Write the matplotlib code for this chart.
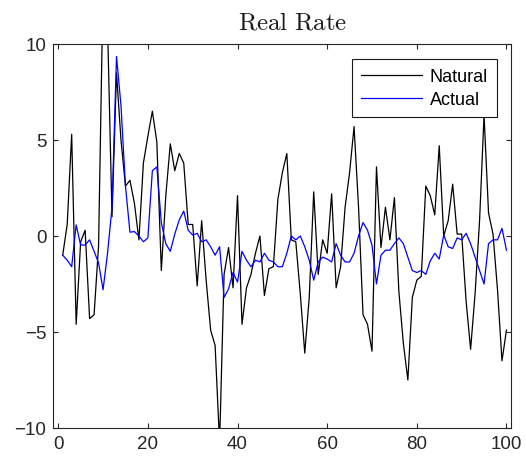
import matplotlib
matplotlib.use("Agg")
import matplotlib.pyplot as plt
import numpy as np

plt.rcParams['mathtext.fontset'] = 'cm'

periods = list(range(1, 101))

natural = [
    -1.0, 0.6, 5.3, -4.6, -0.3, 0.3, -4.3, -4.1, -0.5, 13.0,
    11.0, 1.0, 8.5, 5.0, 2.6, 2.9, 1.7, -0.2, 3.8, 5.2,
    6.5, 4.9, -1.8, 2.1, 4.8, 3.4, 4.3, 3.8, 0.6, 0.6,
    -2.6, 0.8, -2.3, -4.9, -5.7, -10.8, -2.0, -0.6, -2.7, 2.1,
    -4.6, -2.7, -2.0, -0.9, 0.0, -3.1, -1.7, -1.6, 1.9, 3.3,
    4.3, -0.2, -0.3, -3.0, -6.1, -3.2, 2.3, -2.0, -0.2, -0.9,
    2.2, -2.7, -1.6, 1.5, 3.3, 5.7, 1.5, -4.1, -4.6, -6.0,
    3.6, -0.6, 1.5, -0.2, 2.0, -2.9, -5.6, -7.5, -3.2, -2.3,
    -2.1, 2.6, 2.1, 1.1, 4.7, 0.0, 0.8, 2.7, 0.1, 0.1,
    -3.4, -5.9, -3.0, 0.8, 6.3, 1.2, 0.1, -2.8, -6.5, -4.9,
]

actual = [
    -1.0, -1.26, -1.6, 0.58, -0.47, -0.47, -0.2, -0.8, -1.4, -2.8,
    -0.9, 1.5, 9.35, 6.8, 2.6, 0.2, 0.23, 0.0, -0.3, -0.1,
    3.4, 3.6, 0.7, -0.4, -0.8, 0.1, 0.84, 1.3, 0.3, 0.05,
    0.14, -0.3, -0.2, -0.56, -1.0, -0.56, -3.2, -2.75, -1.9, -2.4,
    -0.8, -1.26, -1.6, -1.26, -1.35, -0.9, -1.26, -1.35, -1.6, -1.6,
    -0.9, 0.0, -0.2, 0.0, -0.56, -1.26, -2.3, -1.35, -1.1, -1.2,
    -1.35, -0.4, -1.0, -1.35, -1.35, -0.9, 0.0, 0.7, 0.3, -0.47,
    -2.5, -1.0, -0.74, -0.74, -0.4, -0.1, -0.4, -1.1, -1.8, -1.9,
    -1.8, -2.0, -1.3, -0.9, -1.2, 0.05, -0.56, -0.65, -0.1, -0.2,
    0.14, -0.4, -1.1, -1.8, -2.5, -0.4, -0.2, -0.2, 0.4, -0.74,
]

xticks = [0, 20, 40, 60, 80, 100]
yticks = [-10, -5, 0, 5, 10]

fig = plt.figure(figsize=(5.26, 4.64), dpi=100)
ax = fig.add_axes([53.3 / 526, 1 - 429 / 464, (510.5 - 53.3) / 526, (429 - 45) / 464])

ax.plot(periods, natural, color='black', lw=0.9, label='Natural')
ax.plot(periods, actual, color='#0000FF', lw=0.9, label='Actual')

ax.set_xlim(-1.1, 100.9)
ax.set_ylim(-10, 10)
ax.set_xticks(xticks)
ax.set_yticks(yticks)

for sp in ax.spines.values():
    sp.set_color('#262626')
    sp.set_linewidth(0.8)
ax.tick_params(direction='in', length=3.6, width=0.8, color='#262626',
               top=True, right=True, labelsize=13.5, labelcolor='#262626', pad=5)
for lab in ax.get_xticklabels() + ax.get_yticklabels():
    lab.set_family('Liberation Sans')

ax.set_title(r'$\mathrm{Real\ Rate}$', fontsize=18, pad=11, color='#1a1a1a', x=0.523)

leg = ax.legend(loc='upper right', bbox_to_anchor=(0.970, 0.961), fancybox=False,
                framealpha=1, edgecolor='#1a1a1a', borderpad=0.5, labelspacing=0.35,
                handlelength=3.4, handletextpad=0.4, borderaxespad=0,
                prop={'family': 'Liberation Sans', 'size': 13})
leg.get_frame().set_linewidth(0.8)

fig.savefig('out.png', dpi=100)
